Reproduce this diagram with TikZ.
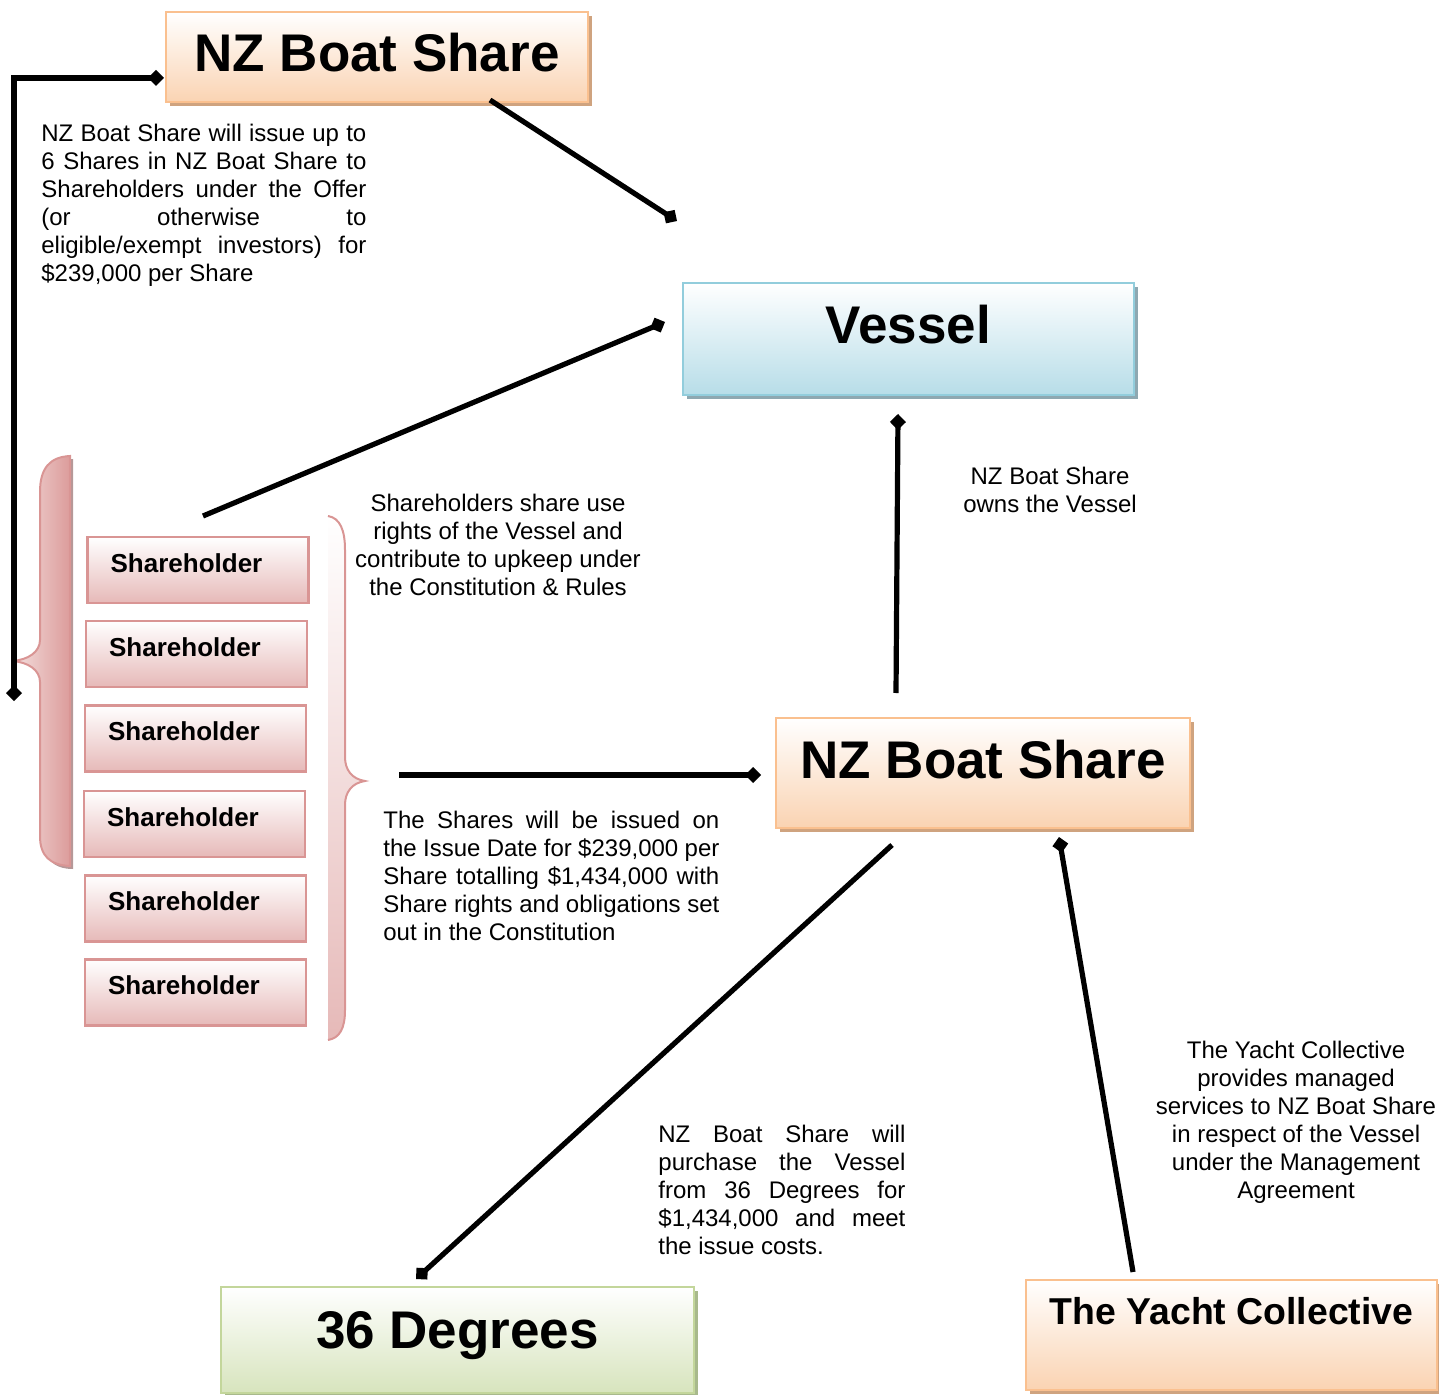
\documentclass[tikz,border=0pt]{standalone}
\usepackage{fontspec}
\setmainfont{Liberation Sans}
\usetikzlibrary{arrows.meta,shadows}
\definecolor{orBorder}{HTML}{FAC08F}
\definecolor{orFill}{HTML}{FAD3B2}
\definecolor{orShadow}{HTML}{CFA37F}
\definecolor{blBorder}{HTML}{92CDDC}
\definecolor{blFill}{HTML}{B7DDE8}
\definecolor{blShadow}{HTML}{8EA8B1}
\definecolor{grBorder}{HTML}{C3D69B}
\definecolor{grFill}{HTML}{D7E4BD}
\definecolor{grShadow}{HTML}{A8B98C}
\definecolor{pkBorder}{HTML}{D99594}
\definecolor{pkFill}{HTML}{E6B9B8}
\definecolor{pkLight}{HTML}{F4E0DF}
\definecolor{pkDark}{HTML}{DC9C9B}
\definecolor{pkShadow}{HTML}{B59898}
\newcommand{\jl}[2]{\makebox[#1][s]{#2}}
\tikzset{
  bigtxt/.style={font=\fontsize{26.5}{30}\selectfont\bfseries, inner sep=0pt},
  ycttxt/.style={font=\fontsize{18.7}{22}\selectfont\bfseries, inner sep=0pt},
  shtxt/.style={font=\fontsize{13}{15}\selectfont\bfseries, inner sep=0pt},
  smalltxt/.style={font=\fontsize{12}{14}\selectfont, inner sep=0pt},
  orbox/.style={draw=orBorder, line width=1pt, top color=white, bottom color=orFill, inner sep=0pt,
    drop shadow={fill=orShadow, opacity=1, shadow xshift=2pt, shadow yshift=-2pt}},
  blbox/.style={draw=blBorder, line width=1pt, top color=white, bottom color=blFill, inner sep=0pt,
    drop shadow={fill=blShadow, opacity=1, shadow xshift=2pt, shadow yshift=-2pt}},
  grbox/.style={draw=grBorder, line width=1pt, top color=white, bottom color=grFill, inner sep=0pt,
    drop shadow={fill=grShadow, opacity=1, shadow xshift=2pt, shadow yshift=-2pt}},
  pkbox/.style={draw=pkBorder, line width=1.3pt, top color=white, bottom color=pkFill, inner sep=0pt,
    minimum width=110.5pt, minimum height=33pt},
  conn/.style={line width=2.6pt, -{Diamond[length=8pt,width=8pt]}},
  conn2/.style={line width=2.6pt, {Diamond[length=8pt,width=8pt]}-{Diamond[length=8pt,width=8pt]}},
}
\begin{document}
\begin{tikzpicture}[x=0.5pt,y=-0.5pt]
\useasboundingbox (0,0) rectangle (1439,1395);

% left brace (filled)
\fill[pkShadow] (73,459) .. controls (53,459) and (43,468) .. (43,495) -- (43,640)
  -- (43,838) .. controls (43,858) and (53,869) .. (73,869) -- cycle;
\path[draw=pkBorder, line width=1pt, left color=pkLight, right color=pkDark]
  (70,456) .. controls (50,457) and (40,468) .. (40,492) -- (40,640)
  .. controls (40,652) and (28,660) .. (12,661) .. controls (28,662) and (40,670) .. (40,682)
  -- (40,836) .. controls (40,856) and (50,865) .. (70,866) -- cycle;

% right brace
\fill[top color=white, bottom color=pkFill]
  (328,516) .. controls (340,518) and (345,530) .. (345,550) -- (345,757)
  .. controls (345,770) and (352,779) .. (365,781) .. controls (352,783) and (345,792) .. (345,805)
  -- (345,1010) .. controls (345,1028) and (340,1038) .. (328,1040) -- cycle;
\draw[pkBorder, line width=1pt]
  (328,516) .. controls (340,518) and (345,530) .. (345,550) -- (345,757)
  .. controls (345,770) and (352,779) .. (365,781) .. controls (352,783) and (345,792) .. (345,805)
  -- (345,1010) .. controls (345,1028) and (340,1038) .. (328,1040);

% main boxes
\node[orbox, minimum width=211pt, minimum height=45pt,
  label={[bigtxt,yshift=2.25pt]center:NZ Boat Share}] (nz1) at (377,57.5) {};
\node[blbox, minimum width=225.5pt, minimum height=56pt,
  label={[bigtxt,yshift=7pt]center:Vessel}] (vessel) at (908.5,339) {};
\node[orbox, minimum width=207pt, minimum height=55pt,
  label={[bigtxt,yshift=6.5pt]center:NZ Boat Share}] (nz2) at (983,773) {};
\node[grbox, minimum width=236.5pt, minimum height=53pt,
  label={[bigtxt,yshift=2pt]center:36 Degrees}] (deg) at (457.5,1340) {};
\node[orbox, minimum width=205.5pt, minimum height=55pt,
  label={[ycttxt,yshift=11.75pt]center:The Yacht Collective}] (yacht) at (1231.5,1335) {};

% shareholder boxes
\node[pkbox, label={[shtxt,xshift=-5.75pt,yshift=3.5pt]center:Shareholder}] (s1) at (198,570) {};
\node[pkbox, label={[shtxt,xshift=-5.75pt,yshift=3.5pt]center:Shareholder}] (s2) at (196.5,654) {};
\node[pkbox, label={[shtxt,xshift=-5.75pt,yshift=3.5pt]center:Shareholder}] (s3) at (195.5,738.5) {};
\node[pkbox, label={[shtxt,xshift=-5.75pt,yshift=3.5pt]center:Shareholder}] (s4) at (194.5,824) {};
\node[pkbox, label={[shtxt,xshift=-5.75pt,yshift=3.5pt]center:Shareholder}] (s5) at (195.5,908.5) {};
\node[pkbox, label={[shtxt,xshift=-5.75pt,yshift=3.5pt]center:Shareholder}] (s6) at (195.5,992.5) {};

% text blocks
\node[smalltxt, anchor=north west, align=left] (t1) at (41,124)
  {\jl{162.5pt}{NZ Boat Share will issue up to}\\
   \jl{162.5pt}{6 Shares in NZ Boat Share to}\\
   \jl{162.5pt}{Shareholders under the Offer}\\
   \jl{162.5pt}{(or otherwise to}\\
   \jl{162.5pt}{eligible/exempt investors) for}\\
   \$239,000 per Share};
\node[smalltxt, anchor=north, align=center] (t2) at (498,494)
  {Shareholders share use\\rights of the Vessel and\\contribute to upkeep under\\the Constitution \& Rules};
\node[smalltxt, anchor=north, align=center] (t6) at (1050,467)
  {NZ Boat Share\\owns the Vessel};
\node[smalltxt, anchor=north west, align=left] (t3) at (383,811)
  {\jl{168pt}{The Shares will be issued on}\\
   \jl{168pt}{the Issue Date for \$239,000 per}\\
   \jl{168pt}{Share totalling \$1,434,000 with}\\
   \jl{168pt}{Share rights and obligations set}\\
   out in the Constitution};
\node[smalltxt, anchor=north west, align=left] (t4) at (658,1125)
  {\jl{123.5pt}{NZ Boat Share will}\\
   \jl{123.5pt}{purchase the Vessel}\\
   \jl{123.5pt}{from 36 Degrees for}\\
   \jl{123.5pt}{\$1,434,000 and meet}\\
   the issue costs.};
\node[smalltxt, anchor=north, align=center] (t5) at (1296,1041)
  {The Yacht Collective\\provides managed\\services to NZ Boat Share\\in respect of the Vessel\\under the Management\\Agreement};

% connector end points
\coordinate (a1) at (14,701);
\coordinate (a2) at (164,78);
\coordinate (b1) at (490,100);
\coordinate (b2) at (677,221);
\coordinate (c1) at (203,516);
\coordinate (c2) at (665,322);
\coordinate (d1) at (896,693);
\coordinate (d2) at (898,414);
\coordinate (e1) at (399,775);
\coordinate (e2) at (761,775);
\coordinate (f1) at (892,845);
\coordinate (f2) at (416,1279);
\coordinate (g1) at (1133,1272);
\coordinate (g2) at (1059,837);

\draw[conn2] (a1) |- (a2);
\draw[conn] (b1) -- (b2);
\draw[conn] (c1) -- (c2);
\draw[conn] (d1) -- (d2);
\draw[conn] (e1) -- (e2);
\draw[conn] (f1) -- (f2);
\draw[conn] (g1) -- (g2);
\end{tikzpicture}
\end{document}
